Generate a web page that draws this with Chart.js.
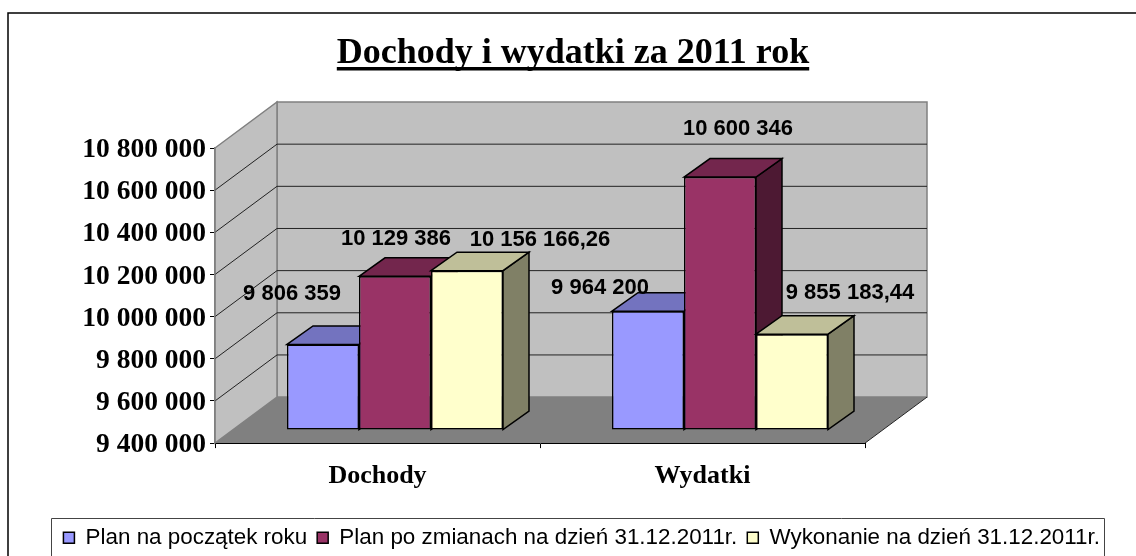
<!DOCTYPE html>
<html>
<head>
<meta charset="utf-8">
<title>Dochody i wydatki za 2011 rok</title>
<script src="https://cdn.jsdelivr.net/npm/chart.js@4"></script>
<style>
  html, body { margin: 0; padding: 0; background: #fff; overflow: hidden; }
  #wrap { width: 1136px; height: 556px; }
</style>
</head>
<body>
<div id="wrap"><canvas id="myChart" width="1136" height="556"></canvas></div>
<script>
const categories = ['Dochody', 'Wydatki'];
const seriesNames = ['Plan na początek roku', 'Plan po zmianach na dzień 31.12.2011r.', 'Wykonanie na dzień 31.12.2011r.'];
const planStart = [9806359, 9964200];
const planChanged = [10129386, 10600346];
const execution = [10156166.26, 9855183.44];
const yTicks = [9400000, 9600000, 9800000, 10000000, 10200000, 10400000, 10600000, 10800000];

const frontColors = ['#9999FF', '#993366', '#FFFFCC'];
const topColors = ['#7373BF', '#73264D', '#BFBF99'];
const sideColors = ['#4D4D80', '#4D1933', '#808066'];

// 3d look: depth of the walls and of the bars, in pixels
const wallDepth = { x: 62, y: -46 };
const barShift = { x: 17.5, y: -13 };
const barDepth = { x: 26, y: -18.5 };
// data labels were moved by hand in the original: [dataset][category]
const labelShift = [
  [[-31, -51], [-48, -23]],
  [[1, -37], [18, -48]],
  [[73, -31], [58, -41]]
];

function spaced(n) {
  return String(n).replace(/\B(?=(\d{3})+$)/g, ' ');
}
function labelText(v) {
  const parts = String(v).split('.');
  return spaced(parts[0]) + (parts[1] ? ',' + parts[1] : '');
}
function poly(ctx, pts, fill, stroke, width) {
  ctx.beginPath();
  pts.forEach((p, i) => i ? ctx.lineTo(p[0], p[1]) : ctx.moveTo(p[0], p[1]));
  ctx.closePath();
  if (fill) { ctx.fillStyle = fill; ctx.fill(); }
  if (stroke) { ctx.strokeStyle = stroke; ctx.lineWidth = width; ctx.stroke(); }
}

const titleFont = 'bold 36px "Liberation Serif"';

const walls3d = {
  id: 'walls3d',
  beforeDraw(chart) {
    const { ctx, chartArea: a, scales } = chart;
    const dx = wallDepth.x, dy = wallDepth.y;
    ctx.save();
    // outer frame, only top and left are inside the picture
    ctx.strokeStyle = '#000';
    ctx.lineWidth = 1.5;
    ctx.beginPath();
    ctx.moveTo(8, 556);
    ctx.lineTo(8, 13);
    ctx.lineTo(1136, 13);
    ctx.stroke();

    poly(ctx, [[a.left + dx, a.top + dy], [a.right + dx, a.top + dy], [a.right + dx, a.bottom + dy], [a.left + dx, a.bottom + dy]], '#C0C0C0', '#808080', 1.5);
    poly(ctx, [[a.left, a.top], [a.left + dx, a.top + dy], [a.left + dx, a.bottom + dy], [a.left, a.bottom]], '#C0C0C0', '#808080', 1.5);
    poly(ctx, [[a.left, a.bottom], [a.left + dx, a.bottom + dy], [a.right + dx, a.bottom + dy], [a.right, a.bottom]], '#808080');

    ctx.strokeStyle = '#222';
    ctx.lineWidth = 1;
    yTicks.slice(1, -1).forEach(v => {
      const y = scales.y.getPixelForValue(v);
      ctx.beginPath();
      ctx.moveTo(a.left, y);
      ctx.lineTo(a.left + dx, y + dy);
      ctx.lineTo(a.right + dx, y + dy);
      ctx.stroke();
    });
    ctx.beginPath();
    ctx.moveTo(a.right, a.bottom);
    ctx.lineTo(a.right + dx, a.bottom + dy);
    ctx.stroke();
    ctx.restore();
  },
  // bars go first to last so that each one hides the side of the one before
  beforeDatasetsDraw(chart) {
    const ctx = chart.ctx;
    const dx = barDepth.x, dy = barDepth.y;
    ctx.save();
    ctx.translate(barShift.x, barShift.y);
    chart.data.datasets.forEach((ds, i) => {
      chart.getDatasetMeta(i).data.forEach(bar => {
        const p = bar.getProps(['x', 'y', 'base', 'width'], true);
        const l = p.x - p.width / 2, r = p.x + p.width / 2;
        ctx.lineJoin = 'miter';
        poly(ctx, [[r, p.y], [r + dx, p.y + dy], [r + dx, p.base + dy], [r, p.base]], sideColors[i], '#000', 1.5);
        poly(ctx, [[l, p.y], [l + dx, p.y + dy], [r + dx, p.y + dy], [r, p.y]], topColors[i], '#000', 1.5);
        bar.draw(ctx);
      });
    });
    ctx.restore();
    return false;
  },
  afterDraw(chart) {
    const { ctx, titleBlock } = chart;
    ctx.save();
    // value labels
    ctx.font = 'bold 22px "Liberation Sans"';
    ctx.fillStyle = '#000';
    ctx.textAlign = 'center';
    ctx.textBaseline = 'middle';
    chart.data.datasets.forEach((ds, i) => {
      chart.getDatasetMeta(i).data.forEach((bar, j) => {
        const s = labelShift[i][j];
        ctx.fillText(labelText(ds.data[j]), bar.x + barShift.x + s[0], bar.y + barShift.y + s[1]);
      });
    });
    // title underline
    ctx.font = titleFont;
    const w = ctx.measureText(chart.options.plugins.title.text).width;
    const cx = (titleBlock.left + titleBlock.right) / 2;
    ctx.fillRect(cx - w / 2, 67, w, 3.5);
    // legend box, its bottom edge is cut off by the picture
    ctx.strokeStyle = '#444';
    ctx.lineWidth = 1;
    ctx.beginPath();
    ctx.moveTo(51.5, 556);
    ctx.lineTo(51.5, 518.5);
    ctx.lineTo(1104.5, 518.5);
    ctx.lineTo(1104.5, 556);
    ctx.stroke();
    ctx.restore();
  }
};

new Chart(document.getElementById('myChart'), {
  type: 'bar',
  plugins: [walls3d],
  data: {
    labels: categories,
    datasets: [planStart, planChanged, execution].map((values, i) => ({
      label: seriesNames[i],
      data: values,
      backgroundColor: frontColors[i],
      borderColor: '#000',
      borderWidth: 1.5,
      borderSkipped: false
    }))
  },
  options: {
    responsive: false,
    animation: false,
    events: [],
    layout: { padding: { left: 36, right: 26, top: 36, bottom: -3 } },
    datasets: { bar: { categoryPercentage: 0.6646, barPercentage: 1, base: yTicks[0] } },
    plugins: {
      tooltip: { enabled: false },
      title: {
        display: true,
        text: 'Dochody i wydatki za 2011 rok',
        color: '#000',
        font: { family: 'Liberation Serif', size: 36, weight: 'bold', lineHeight: 1 },
        padding: { top: 0, bottom: 76 }
      },
      legend: {
        position: 'bottom',
        align: 'end',
        labels: {
          color: '#000',
          font: { family: 'Liberation Sans', size: 22.4 },
          boxWidth: 11,
          boxHeight: 11,
          padding: 10,
          generateLabels(chart) {
            return chart.data.datasets.map((ds, i) => ({
              text: ds.label,
              fillStyle: frontColors[i],
              strokeStyle: '#000',
              lineWidth: 1.5,
              fontColor: '#000',
              datasetIndex: i
            }));
          }
        }
      }
    },
    scales: {
      x: {
        grid: { drawOnChartArea: false, color: '#000', tickColor: '#000', tickLength: 5 },
        border: { color: '#000', width: 1 },
        ticks: { color: '#000', padding: 13, font: { family: 'Liberation Serif', size: 26, weight: 'bold' } },
        afterFit(s) { s.height = 73.5; }
      },
      y: {
        min: 9400000,
        max: 10800000,
        afterBuildTicks(s) { s.ticks = yTicks.map(v => ({ value: v })); },
        grid: { drawOnChartArea: false, color: '#000', tickColor: '#000', tickLength: 5 },
        border: { color: '#808080', width: 1.5 },
        ticks: {
          color: '#000',
          padding: 4,
          labelOffset: 2,
          font: { family: 'Liberation Serif', size: 27.5, weight: 'bold' },
          callback: v => spaced(v)
        },
        afterFit(s) { s.width = 179; }
      },
      // empty axis, keeps the plot away from the right edge
      spacer: {
        position: 'right',
        grid: { display: false },
        border: { display: false },
        ticks: { display: false },
        afterFit(s) { s.width = 245; }
      }
    }
  }
});
</script>
</body>
</html>
